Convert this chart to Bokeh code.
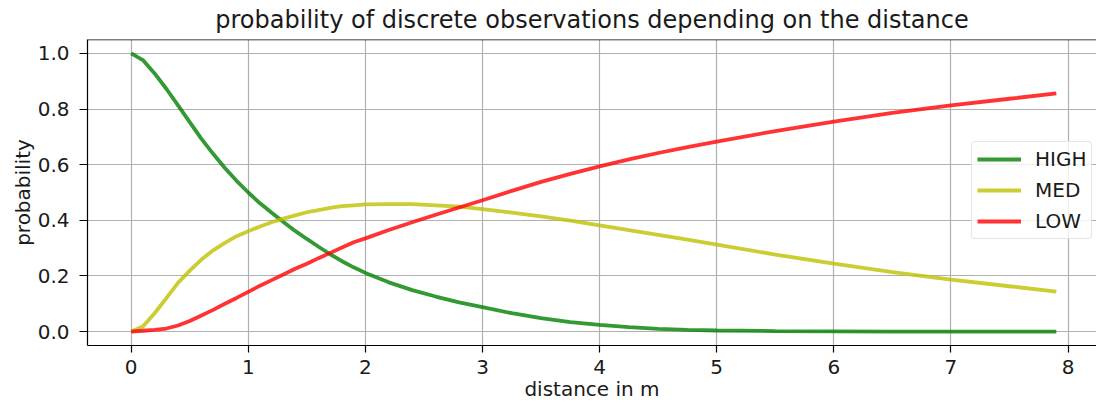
from bokeh.plotting import figure
from bokeh.models import Range1d, FixedTicker, NumeralTickFormatter, Legend, LegendItem, Span
from bokeh.embed import file_html
from bokeh.resources import INLINE

# distance in m
distance = [0.0, 0.1, 0.2, 0.3, 0.4, 0.5, 0.6, 0.7, 0.8, 0.9, 1.0,
            1.1, 1.2, 1.3, 1.4, 1.5, 1.6, 1.7, 1.8, 1.9, 2.0,
            2.2, 2.4, 2.6, 2.8, 3.0, 3.25, 3.5, 3.75, 4.0, 4.25, 4.5, 4.75, 5.0,
            5.5, 6.0, 6.5, 7.0, 7.5, 7.9]

p_high = [1.0, 0.976, 0.928, 0.873, 0.813, 0.753, 0.693, 0.639, 0.588, 0.542, 0.5,
          0.461, 0.427, 0.394, 0.362, 0.333, 0.305, 0.278, 0.253, 0.231, 0.211,
          0.177, 0.149, 0.126, 0.105, 0.088, 0.066, 0.048, 0.034, 0.024, 0.016, 0.01, 0.006, 0.004,
          0.002, 0.001, 0.0, 0.0, 0.0, 0.0]

p_med = [0.0, 0.018, 0.066, 0.12, 0.175, 0.219, 0.259, 0.292, 0.319, 0.343, 0.361,
         0.378, 0.393, 0.406, 0.418, 0.429, 0.437, 0.445, 0.451, 0.454, 0.457,
         0.458, 0.458, 0.454, 0.449, 0.44, 0.428, 0.414, 0.399, 0.382, 0.365, 0.348, 0.331, 0.313,
         0.277, 0.244, 0.214, 0.187, 0.163, 0.144]

p_low = [0.0, 0.003, 0.006, 0.011, 0.022, 0.038, 0.058, 0.078, 0.1, 0.121, 0.143,
         0.165, 0.185, 0.205, 0.226, 0.244, 0.264, 0.283, 0.302, 0.321, 0.335,
         0.365, 0.393, 0.42, 0.446, 0.472, 0.506, 0.538, 0.567, 0.594, 0.619, 0.642, 0.663, 0.683,
         0.721, 0.755, 0.786, 0.813, 0.837, 0.856]

series_names = ["HIGH", "MED", "LOW"]
x_ticks = [0, 1, 2, 3, 4, 5, 6, 7, 8]
y_ticks = [0.0, 0.2, 0.4, 0.6, 0.8, 1.0]

FONT = "DejaVu Sans"
TXT = "#1a1a1a"

p = figure(frame_width=1009, frame_height=306,
           min_border_left=87, min_border_right=0, min_border_top=39, min_border_bottom=59,
           output_backend="svg", toolbar_location=None,
           x_range=Range1d(-0.373, 8.243), y_range=Range1d(-0.05, 1.05),
           title="probability of discrete observations depending on the distance")

p.title.align = "center"
p.title.vertical_align = "top"
p.title.text_font = FONT
p.title.text_font_size = "24px"
p.title.text_font_style = "normal"
p.title.text_color = TXT
p.title.offset = 3
p.title.standoff = 8

p.background_fill_color = "white"
p.border_fill_color = "white"
p.outline_line_color = None

for ax in (p.xaxis[0], p.yaxis[0]):
    ax.axis_line_color = "black"
    ax.axis_line_width = 1.2
    ax.major_tick_line_color = "black"
    ax.major_tick_line_width = 1.2
    ax.major_tick_in = 0
    ax.minor_tick_line_color = None
    ax.major_label_text_font = FONT
    ax.major_label_text_font_size = "20px"
    ax.major_label_text_color = TXT
    ax.axis_label_text_font = FONT
    ax.axis_label_text_font_size = "20px"
    ax.axis_label_text_font_style = "normal"
    ax.axis_label_text_color = TXT

p.xaxis.major_tick_out = 7
p.xaxis.major_label_standoff = 7
p.xaxis.axis_label_standoff = 0
p.yaxis.major_tick_out = 8
p.yaxis.major_label_standoff = 10
p.yaxis.axis_label_standoff = 0

p.xaxis.ticker = FixedTicker(ticks=x_ticks)
p.yaxis.ticker = FixedTicker(ticks=y_ticks)
p.yaxis.formatter = NumeralTickFormatter(format="0.0")
p.xaxis.axis_label = "distance in m"
p.yaxis.axis_label = "probability"

p.grid.grid_line_color = "#b0b0b0"
p.grid.grid_line_width = 1.2

top_border = Span(location=1.05, dimension="width", line_color="black", line_width=1.5)
p.add_layout(top_border)

colors = ["#008000", "#bfbf00", "#ff0000"]
values = [p_high, p_med, p_low]
items = []
for name, col, vals in zip(series_names, colors, values):
    r = p.line(distance, vals, line_color=col, line_alpha=0.8, line_width=3.8)
    items.append(LegendItem(label=name, renderers=[r]))

legend = Legend(items=items, location=(884, 106))
legend.label_text_font = FONT
legend.label_text_font_size = "20px"
legend.label_text_color = TXT
legend.glyph_width = 44
legend.glyph_height = 20
legend.label_height = 20
legend.label_standoff = 14
legend.spacing = 7
legend.padding = 5
legend.margin = 0
legend.border_line_color = "#cccccc"
legend.border_line_width = 1
legend.border_radius = 4
legend.background_fill_color = "white"
legend.background_fill_alpha = 0.8
p.add_layout(legend, "center")

open("out.html", "w").write(file_html(p, INLINE))
